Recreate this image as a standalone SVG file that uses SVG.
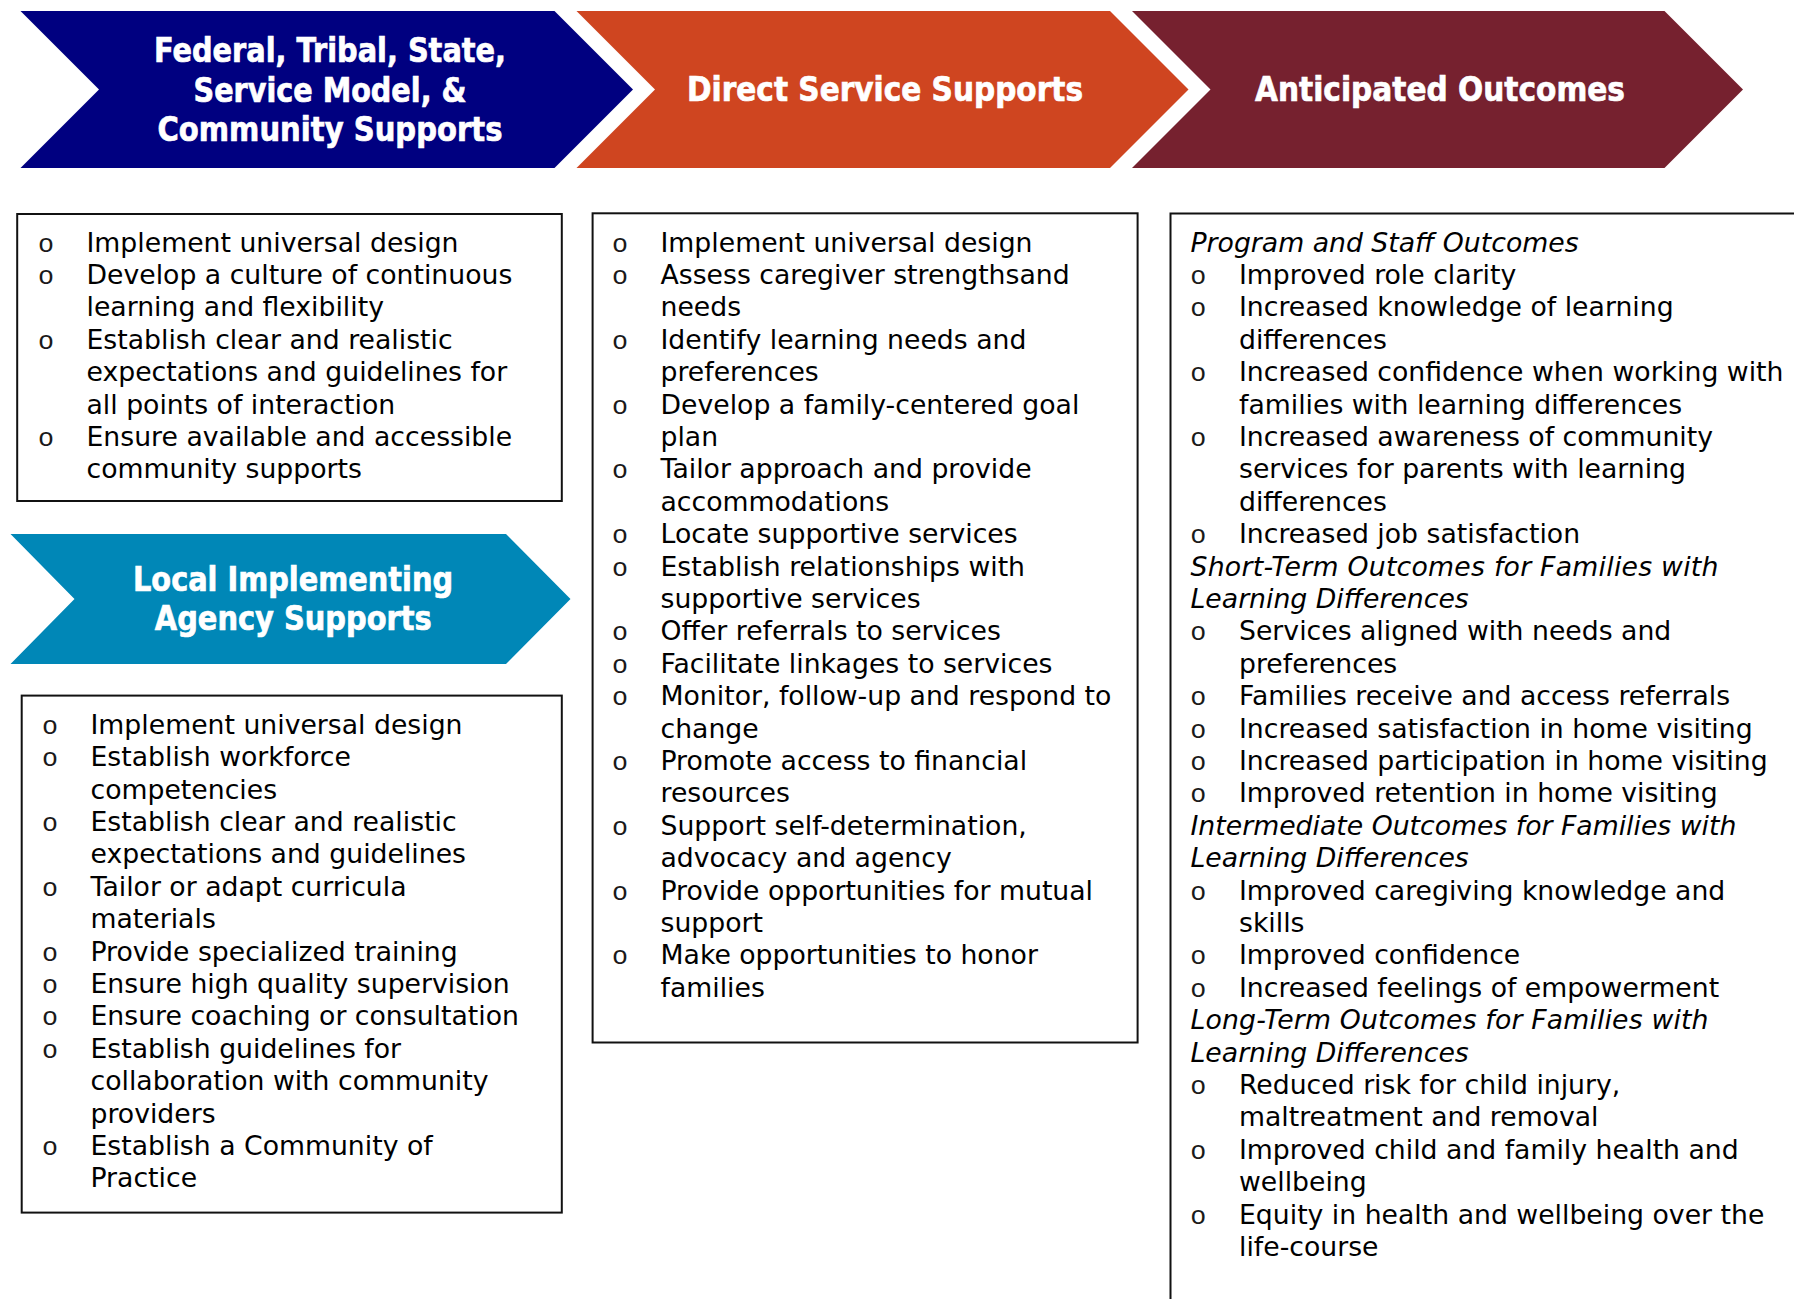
<svg xmlns="http://www.w3.org/2000/svg" width="1794" height="1299" viewBox="0 0 1794 1299">
  <style>
    .hd { font-family: "DejaVu Sans", Verdana, sans-serif; font-weight: bold; font-size: 33px; fill: #ffffff; stroke: #ffffff; stroke-width: 0.7; text-anchor: middle; }
    .tx { font-family: "DejaVu Sans", Verdana, sans-serif; font-size: 26.7px; fill: #000000; }
    .it { font-style: italic; }
    .bu { font-family: "Liberation Mono", "Courier New", monospace; font-size: 26.7px; fill: #1a1a1a; text-anchor: middle; }
    .box { fill: #ffffff; stroke: #111111; stroke-width: 2; }
  </style>
  <rect width="1794" height="1299" fill="#ffffff"/>

  <!-- Top row of process chevrons -->
  <g id="federal-supports">
    <path d="M20.5,11 L554.5,11 L633,89.5 L554.5,168 L20.5,168 L99,89.5 Z" fill="#000080"/>
    <text class="hd" x="330" y="62" textLength="352" lengthAdjust="spacingAndGlyphs">Federal, Tribal, State,</text>
    <text class="hd" x="330" y="101.5" textLength="273" lengthAdjust="spacingAndGlyphs">Service Model, &amp;</text>
    <text class="hd" x="330" y="141" textLength="345" lengthAdjust="spacingAndGlyphs">Community Supports</text>
  </g>

  <g id="direct-service-supports">
    <path d="M576.5,11 L1110,11 L1188.5,89.5 L1110,168 L576.5,168 L655,89.5 Z" fill="#CF4520"/>
    <text class="hd" x="885" y="100.5" textLength="396" lengthAdjust="spacingAndGlyphs">Direct Service Supports</text>
  </g>

  <g id="anticipated-outcomes">
    <path d="M1132,11 L1664.5,11 L1743,89.5 L1664.5,168 L1132,168 L1210.5,89.5 Z" fill="#76212F"/>
    <text class="hd" x="1440" y="100.5" textLength="370" lengthAdjust="spacingAndGlyphs">Anticipated Outcomes</text>
  </g>

  <!-- Federal / tribal / state supports list -->
  <g id="federal-list">
    <rect class="box" x="17.2" y="214" width="544.6" height="287"/>
    <text class="bu" x="46" y="251.5">o</text>
    <text class="bu" x="46" y="283.9">o</text>
    <text class="bu" x="46" y="348.7">o</text>
    <text class="bu" x="46" y="445.9">o</text>
    <text class="tx">
      <tspan x="86.5" y="251.5">Implement universal design</tspan>
      <tspan x="86.5" y="283.9">Develop a culture of continuous</tspan>
      <tspan x="86.5" y="316.3">learning and flexibility</tspan>
      <tspan x="86.5" y="348.7">Establish clear and realistic</tspan>
      <tspan x="86.5" y="381.1">expectations and guidelines for</tspan>
      <tspan x="86.5" y="413.5">all points of interaction</tspan>
      <tspan x="86.5" y="445.9">Ensure available and accessible</tspan>
      <tspan x="86.5" y="478.3">community supports</tspan>
    </text>
  </g>

  <!-- Local implementing agency header -->
  <g id="local-agency-supports">
    <path d="M10.5,534 L506,534 L570.5,599 L506,664 L10.5,664 L74.5,599 Z" fill="#0087B7"/>
    <text class="hd" x="293" y="590.7" textLength="320" lengthAdjust="spacingAndGlyphs">Local Implementing</text>
    <text class="hd" x="293.3" y="630" textLength="277" lengthAdjust="spacingAndGlyphs">Agency Supports</text>
  </g>

  <!-- Local agency list -->
  <g id="local-agency-list">
    <rect class="box" x="21.7" y="695.6" width="540.1" height="517"/>
    <text class="bu" x="50" y="733.7">o</text>
    <text class="bu" x="50" y="766.1">o</text>
    <text class="bu" x="50" y="830.9">o</text>
    <text class="bu" x="50" y="895.7">o</text>
    <text class="bu" x="50" y="960.5">o</text>
    <text class="bu" x="50" y="992.9">o</text>
    <text class="bu" x="50" y="1025.3">o</text>
    <text class="bu" x="50" y="1057.7">o</text>
    <text class="bu" x="50" y="1154.9">o</text>
    <text class="tx">
      <tspan x="90.5" y="733.7">Implement universal design</tspan>
      <tspan x="90.5" y="766.1">Establish workforce</tspan>
      <tspan x="90.5" y="798.5">competencies</tspan>
      <tspan x="90.5" y="830.9">Establish clear and realistic</tspan>
      <tspan x="90.5" y="863.3">expectations and guidelines</tspan>
      <tspan x="90.5" y="895.7">Tailor or adapt curricula</tspan>
      <tspan x="90.5" y="928.1">materials</tspan>
      <tspan x="90.5" y="960.5">Provide specialized training</tspan>
      <tspan x="90.5" y="992.9">Ensure high quality supervision</tspan>
      <tspan x="90.5" y="1025.3">Ensure coaching or consultation</tspan>
      <tspan x="90.5" y="1057.7">Establish guidelines for</tspan>
      <tspan x="90.5" y="1090.1">collaboration with community</tspan>
      <tspan x="90.5" y="1122.5">providers</tspan>
      <tspan x="90.5" y="1154.9">Establish a Community of</tspan>
      <tspan x="90.5" y="1187.3">Practice</tspan>
    </text>
  </g>

  <!-- Direct service supports list -->
  <g id="direct-service-list">
    <rect class="box" x="592.6" y="213.3" width="545" height="829.2"/>
    <text class="bu" x="620" y="251.5">o</text>
    <text class="bu" x="620" y="283.9">o</text>
    <text class="bu" x="620" y="348.7">o</text>
    <text class="bu" x="620" y="413.5">o</text>
    <text class="bu" x="620" y="478.3">o</text>
    <text class="bu" x="620" y="543.1">o</text>
    <text class="bu" x="620" y="575.5">o</text>
    <text class="bu" x="620" y="640.3">o</text>
    <text class="bu" x="620" y="672.7">o</text>
    <text class="bu" x="620" y="705.1">o</text>
    <text class="bu" x="620" y="769.9">o</text>
    <text class="bu" x="620" y="834.7">o</text>
    <text class="bu" x="620" y="899.5">o</text>
    <text class="bu" x="620" y="964.3">o</text>
    <text class="tx">
      <tspan x="660.5" y="251.5">Implement universal design</tspan>
      <tspan x="660.5" y="283.9">Assess caregiver strengthsand</tspan>
      <tspan x="660.5" y="316.3">needs</tspan>
      <tspan x="660.5" y="348.7">Identify learning needs and</tspan>
      <tspan x="660.5" y="381.1">preferences</tspan>
      <tspan x="660.5" y="413.5">Develop a family-centered goal</tspan>
      <tspan x="660.5" y="445.9">plan</tspan>
      <tspan x="660.5" y="478.3">Tailor approach and provide</tspan>
      <tspan x="660.5" y="510.7">accommodations</tspan>
      <tspan x="660.5" y="543.1">Locate supportive services</tspan>
      <tspan x="660.5" y="575.5">Establish relationships with</tspan>
      <tspan x="660.5" y="607.9">supportive services</tspan>
      <tspan x="660.5" y="640.3">Offer referrals to services</tspan>
      <tspan x="660.5" y="672.7">Facilitate linkages to services</tspan>
      <tspan x="660.5" y="705.1">Monitor, follow-up and respond to</tspan>
      <tspan x="660.5" y="737.5">change</tspan>
      <tspan x="660.5" y="769.9">Promote access to financial</tspan>
      <tspan x="660.5" y="802.3">resources</tspan>
      <tspan x="660.5" y="834.7">Support self-determination,</tspan>
      <tspan x="660.5" y="867.1">advocacy and agency</tspan>
      <tspan x="660.5" y="899.5">Provide opportunities for mutual</tspan>
      <tspan x="660.5" y="931.9">support</tspan>
      <tspan x="660.5" y="964.3">Make opportunities to honor</tspan>
      <tspan x="660.5" y="996.7">families</tspan>
    </text>
  </g>

  <!-- Anticipated outcomes list (runs past the page edges) -->
  <g id="outcomes-list">
    <rect class="box" x="1170.5" y="213.5" width="700" height="1200"/>
    <text class="tx it">
      <tspan x="1190.5" y="251.5">Program and Staff Outcomes</tspan>
      <tspan x="1190.5" y="575.5" textLength="528">Short-Term Outcomes for Families with</tspan>
      <tspan x="1190.5" y="607.9">Learning Differences</tspan>
      <tspan x="1190.5" y="834.7">Intermediate Outcomes for Families with</tspan>
      <tspan x="1190.5" y="867.1">Learning Differences</tspan>
      <tspan x="1190.5" y="1029.1" textLength="518">Long-Term Outcomes for Families with</tspan>
      <tspan x="1190.5" y="1061.5">Learning Differences</tspan>
    </text>
    <text class="bu" x="1198.3" y="283.9">o</text>
    <text class="bu" x="1198.3" y="316.3">o</text>
    <text class="bu" x="1198.3" y="381.1">o</text>
    <text class="bu" x="1198.3" y="445.9">o</text>
    <text class="bu" x="1198.3" y="543.1">o</text>
    <text class="bu" x="1198.3" y="640.3">o</text>
    <text class="bu" x="1198.3" y="705.1">o</text>
    <text class="bu" x="1198.3" y="737.5">o</text>
    <text class="bu" x="1198.3" y="769.9">o</text>
    <text class="bu" x="1198.3" y="802.3">o</text>
    <text class="bu" x="1198.3" y="899.5">o</text>
    <text class="bu" x="1198.3" y="964.3">o</text>
    <text class="bu" x="1198.3" y="996.7">o</text>
    <text class="bu" x="1198.3" y="1093.9">o</text>
    <text class="bu" x="1198.3" y="1158.7">o</text>
    <text class="bu" x="1198.3" y="1223.5">o</text>
    <text class="tx">
      <tspan x="1239" y="283.9">Improved role clarity</tspan>
      <tspan x="1239" y="316.3">Increased knowledge of learning</tspan>
      <tspan x="1239" y="348.7">differences</tspan>
      <tspan x="1239" y="381.1">Increased confidence when working with</tspan>
      <tspan x="1239" y="413.5">families with learning differences</tspan>
      <tspan x="1239" y="445.9">Increased awareness of community</tspan>
      <tspan x="1239" y="478.3">services for parents with learning</tspan>
      <tspan x="1239" y="510.7">differences</tspan>
      <tspan x="1239" y="543.1">Increased job satisfaction</tspan>
      <tspan x="1239" y="640.3">Services aligned with needs and</tspan>
      <tspan x="1239" y="672.7">preferences</tspan>
      <tspan x="1239" y="705.1">Families receive and access referrals</tspan>
      <tspan x="1239" y="737.5">Increased satisfaction in home visiting</tspan>
      <tspan x="1239" y="769.9">Increased participation in home visiting</tspan>
      <tspan x="1239" y="802.3">Improved retention in home visiting</tspan>
      <tspan x="1239" y="899.5">Improved caregiving knowledge and</tspan>
      <tspan x="1239" y="931.9">skills</tspan>
      <tspan x="1239" y="964.3">Improved confidence</tspan>
      <tspan x="1239" y="996.7">Increased feelings of empowerment</tspan>
      <tspan x="1239" y="1093.9">Reduced risk for child injury,</tspan>
      <tspan x="1239" y="1126.3">maltreatment and removal</tspan>
      <tspan x="1239" y="1158.7">Improved child and family health and</tspan>
      <tspan x="1239" y="1191.1">wellbeing</tspan>
      <tspan x="1239" y="1223.5">Equity in health and wellbeing over the</tspan>
      <tspan x="1239" y="1255.9">life-course</tspan>
    </text>
  </g>
</svg>
